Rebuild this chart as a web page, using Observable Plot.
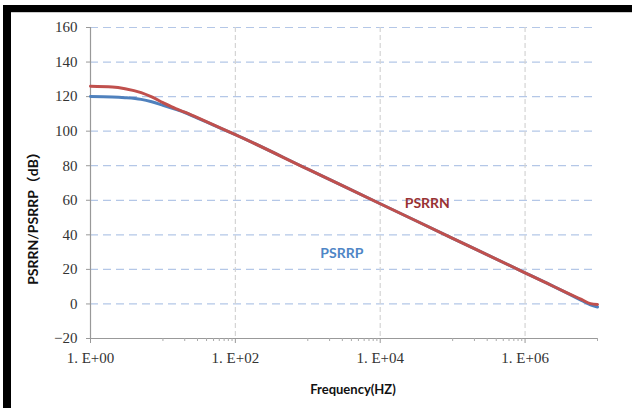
<!DOCTYPE html>
<html>
<head>
<meta charset="utf-8">
<script src="https://cdn.jsdelivr.net/npm/d3@7"></script>
<script src="https://cdn.jsdelivr.net/npm/@observablehq/plot@0.6"></script>
<style>
  html, body { margin: 0; padding: 0; background: #fff; }
  #wrap { position: relative; width: 632px; height: 408px; overflow: hidden; background: #fff; }
  #frame { position: absolute; left: 3px; top: 5px; right: -10px; bottom: -10px;
           border-left: 8px solid #000; border-top: 7px solid #000; pointer-events: none; }
  #frame2 { position: absolute; left: 11px; top: 12px; right: 0; height: 1px; background: #ccc; }
  #chart { position: absolute; left: 0; top: 0; }
</style>
</head>
<body>
<div id="wrap">
  <div id="chart"></div>
  <div id="frame"></div>
  <div id="frame2"></div>
</div>
<script>
// Data (frequency in Hz, PSRR in dB)
const freq   = [1, 2, 3, 5, 7, 10, 15, 20, 30, 50, 100, 1e3, 1e4, 1e5, 1e6, 2e6, 4e6, 6e6, 8e6, 1e7];
const psrrn  = [126, 125.6, 124.6, 122.3, 119.8, 116.5, 113, 111, 107.8, 103.6, 98, 78, 58, 38, 18, 12, 6, 2.6, 0.2, -0.3];
const psrrp  = [120, 119.8, 119.4, 118.4, 117, 115, 112.6, 110.8, 107.6, 103.5, 98, 78, 58, 38, 18, 12, 5.8, 2.1, -0.5, -1.8];
const yTicks = [-20, 0, 20, 40, 60, 80, 100, 120, 140, 160];
const xTicks = [1, 1e2, 1e4, 1e6];
const xTickLabels = ["1. E+00", "1. E+02", "1. E+04", "1. E+06"];
const labelPos = [{name: "PSRRN", f: 44700, v: 58}, {name: "PSRRP", f: 2950, v: 29}];

const colors = {PSRRN: "#c0504d", PSRRP: "#4f81bd"};
const labelColors = {PSRRN: "#993333", PSRRP: "#4f86c6"};

const rows = [];
freq.forEach((f, i) => {
  rows.push({series: "PSRRP", f, v: psrrp[i]});
  rows.push({series: "PSRRN", f, v: psrrn[i]});
});

// minor ticks: Excel base-100 log axis -> ticks at 10..90 x 100^k
const minor = [];
for (let k = 0; k <= 3; k++) {
  const base = Math.pow(100, k);
  for (let m = 1; m <= 9; m++) {
    const t = base * 10 * m;
    if (t <= 1e7) minor.push(t);
  }
}
minor.push(1e7);

const serif = "'Liberation Serif', 'DejaVu Serif', serif";
const sans = "Lato, 'Open Sans', 'Noto Sans CJK SC', sans-serif";

const chart = Plot.plot({
  width: 632,
  height: 408,
  marginLeft: 90,
  marginRight: 35,
  marginTop: 27,
  marginBottom: 70,
  style: {background: "transparent", fontFamily: serif, fontSize: "15px", color: "#333"},
  x: {type: "log", domain: [1, 1e7]},
  y: {domain: [-20, 160]},
  marks: [
    Plot.ruleY(yTicks.filter(d => d > -20), {stroke: "#b4c7e7", strokeWidth: 1.2, strokeDasharray: "8,5"}),
    Plot.ruleX(xTicks.filter(d => d > 1), {stroke: "#d4d4d4", strokeWidth: 1.2, strokeDasharray: "5,3"}),
    Plot.ruleY([-20], {stroke: "#999", strokeWidth: 1.2}),
    Plot.ruleX([1], {stroke: "#999", strokeWidth: 1.2}),
    Plot.axisX({ticks: minor, tickSize: 3, text: null, stroke: "#aaa", label: null}),
    Plot.axisX({ticks: xTicks, tickSize: 5, tickPadding: 9, stroke: "#999", fill: "#333",
                tickFormat: d => xTickLabels[xTicks.indexOf(d)], label: null, fontSize: 15}),
    Plot.axisY({ticks: yTicks, tickSize: 4, tickPadding: 9, stroke: "#999", fill: "#333", label: null, fontSize: 15}),
    Plot.line(rows, {x: "f", y: "v", z: "series", stroke: d => colors[d.series], strokeWidth: 3, curve: "monotone-x"}),
    Plot.text(labelPos, {x: "f", y: "v", text: "name", fill: d => labelColors[d.name],
                         fontFamily: sans, fontWeight: "bold", fontSize: 14}),
    Plot.text(["PSRRN/PSRRP（dB）"], {frameAnchor: "left", textAnchor: "middle", lineAnchor: "middle",
                         dx: -57, dy: 32, rotate: -90,
                         fontFamily: sans, fontWeight: "bold", fontSize: 14, fill: "#111"}),
    Plot.text(["Frequency(HZ)"], {frameAnchor: "bottom", textAnchor: "middle", lineAnchor: "middle",
                         dx: 9, dy: 51,
                         fontFamily: sans, fontWeight: "bold", fontSize: 13, fill: "#111"})
  ]
});
document.getElementById("chart").appendChild(chart);
</script>
</body>
</html>
